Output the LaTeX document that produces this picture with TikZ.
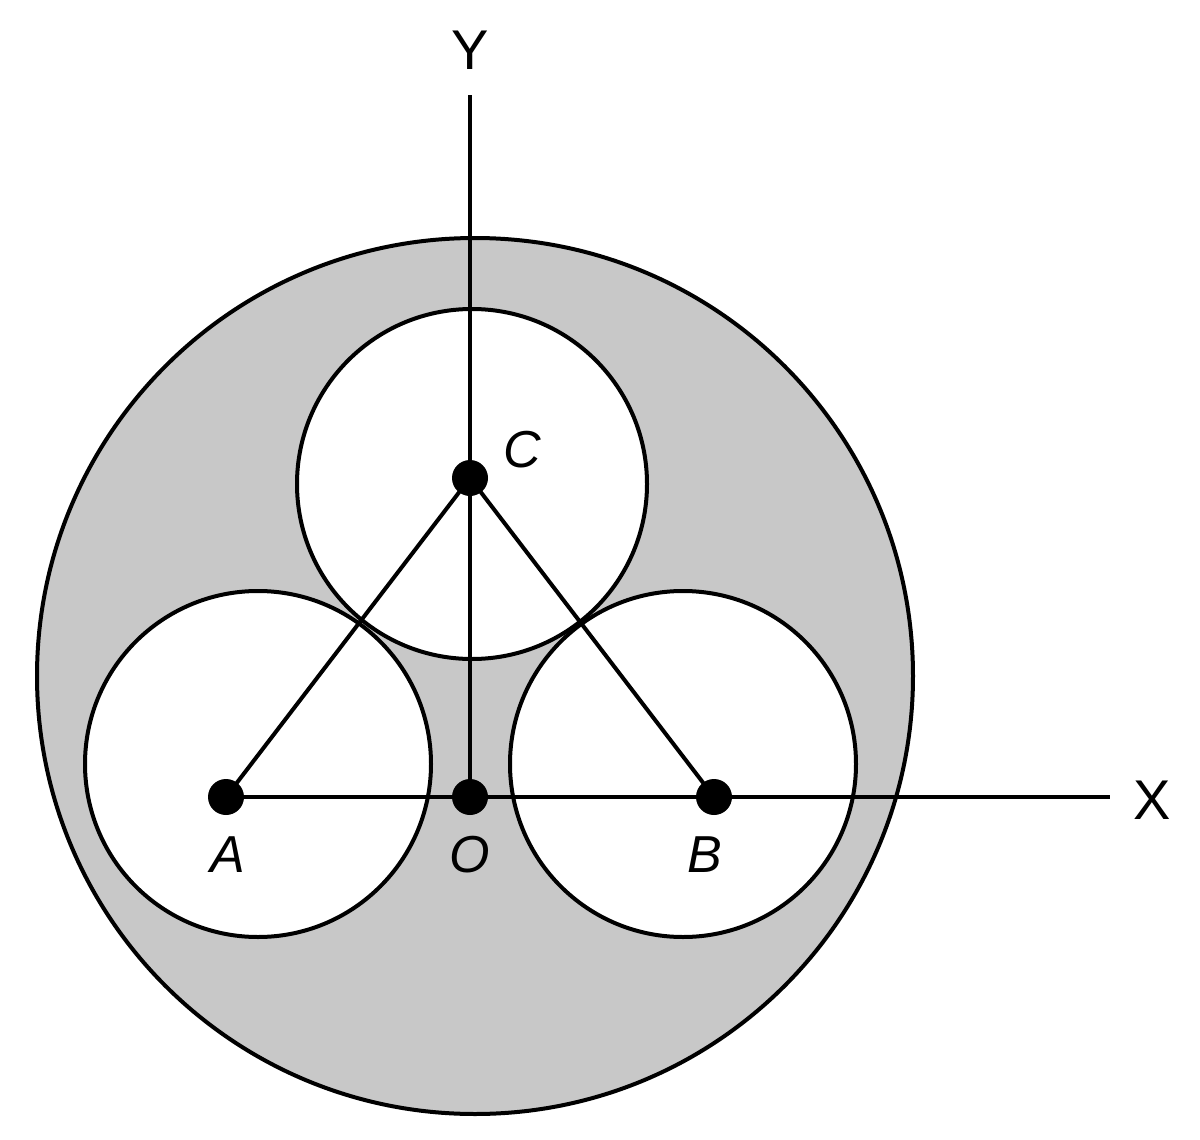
\documentclass[tikz,border=0pt]{standalone}
\usepackage{fontspec}
\setmainfont{Liberation Sans}
\usepackage{tikz}
\usetikzlibrary{positioning}
\definecolor{shellgray}{HTML}{C8C8C8}
\tikzset{
  ring/.style={draw, line width=4pt},
  pt/.style={circle, fill=black, inner sep=0pt, minimum size=36pt},
  lab/.style={font=\fontsize{52}{56}\selectfont\itshape},
  axlab/.style={font=\fontsize{56}{60}\selectfont}
}
\begin{document}
\begin{tikzpicture}[x=1pt, y=-1pt]
\useasboundingbox (0,0) rectangle (1200,1140);
% shell and holes
\filldraw[fill=shellgray, ring] (475,676) circle (438);
\filldraw[fill=white, ring] (472,484) circle (175);
\filldraw[fill=white, ring] (258,764) circle (173);
\filldraw[fill=white, ring] (683,764) circle (173);
% points
\node[pt] (C) at (470,478) {};
\node[pt] (A) at (226,797) {};
\node[pt] (O) at (470,797) {};
\node[pt] (B) at (714,797) {};
\coordinate (yend) at (470,95);
\coordinate (xend) at (1110,797);
% axes and triangle
\draw[line width=4pt] (O.center) -- (yend);
\draw[line width=4pt] (A.center) -- (xend);
\draw[line width=4pt] (A.center) -- (C.center) -- (B.center);
% labels
\node[axlab] (ylab) at (470,50) {Y};
\node[axlab] (xlab) at (1152,800) {X};
\node[lab] (clab) at (522,450) {C};
\node[lab] (alab) at (228,855) {A};
\node[lab] (olab) at (470,855) {O};
\node[lab] (blab) at (705,855) {B};
\end{tikzpicture}
\end{document}
